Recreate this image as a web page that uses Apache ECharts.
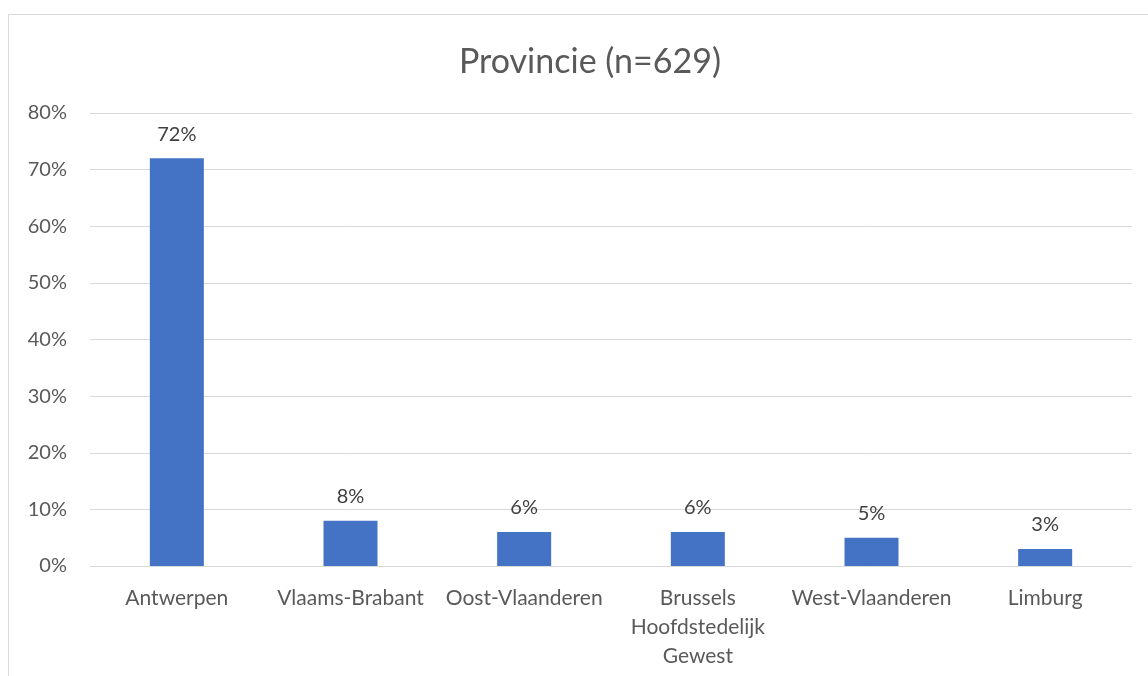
<!DOCTYPE html>
<html>
<head>
<meta charset="utf-8">
<script src="https://cdn.jsdelivr.net/npm/echarts@6/dist/echarts.min.js"></script>
<style>
html, body { margin: 0; padding: 0; background: #fff; }
#chart { width: 1148px; height: 676px; }
</style>
</head>
<body>
<div id="chart"></div>
<script>
var provinces = ['Antwerpen', 'Vlaams-Brabant', 'Oost-Vlaanderen', 'Brussels Hoofdstedelijk Gewest', 'West-Vlaanderen', 'Limburg'];
var percentages = [72, 8, 6, 6, 5, 3];
var titleText = 'Provincie (n=629)';

var font = 'Lato, "Open Sans", sans-serif';
var grey = '#595959';

var myChart = echarts.init(document.getElementById('chart'));
var option = {
    animation: false,
    backgroundColor: '#fff',
    graphic: [{
        type: 'rect',
        shape: { x: 8.5, y: 14.5, width: 1160, height: 700 },
        style: { fill: 'none', stroke: '#d9d9d9', lineWidth: 1 },
        silent: true
    }],
    title: {
        text: titleText,
        left: 585,
        textAlign: 'center',
        top: 40,
        textStyle: { fontFamily: font, fontSize: 34, fontWeight: 'normal', color: grey }
    },
    grid: { left: 90, right: 16, top: 113, bottom: 110, containLabel: false },
    xAxis: {
        type: 'category',
        data: provinces,
        axisTick: { show: false },
        axisLine: { lineStyle: { color: '#d9d9d9', width: 1 } },
        axisLabel: {
            interval: 0,
            margin: 18,
            color: grey,
            fontFamily: font,
            fontSize: 21,
            lineHeight: 29,
            formatter: function (v) { return v.split(' ').join('\n'); }
        }
    },
    yAxis: {
        type: 'value',
        min: 0,
        max: 80,
        interval: 10,
        axisLine: { show: false },
        axisTick: { show: false },
        splitLine: { lineStyle: { color: '#d9d9d9', width: 1 } },
        axisLabel: {
            margin: 23,
            color: grey,
            fontFamily: font,
            fontSize: 20,
            formatter: '{value}%'
        }
    },
    series: [{
        type: 'bar',
        data: percentages,
        barWidth: 54,
        itemStyle: { color: '#4472c4' },
        label: {
            show: true,
            position: 'top',
            distance: 14,
            color: '#404040',
            fontFamily: font,
            fontSize: 20,
            formatter: '{c}%'
        }
    }]
};
myChart.setOption(option, true);
</script>
</body>
</html>
